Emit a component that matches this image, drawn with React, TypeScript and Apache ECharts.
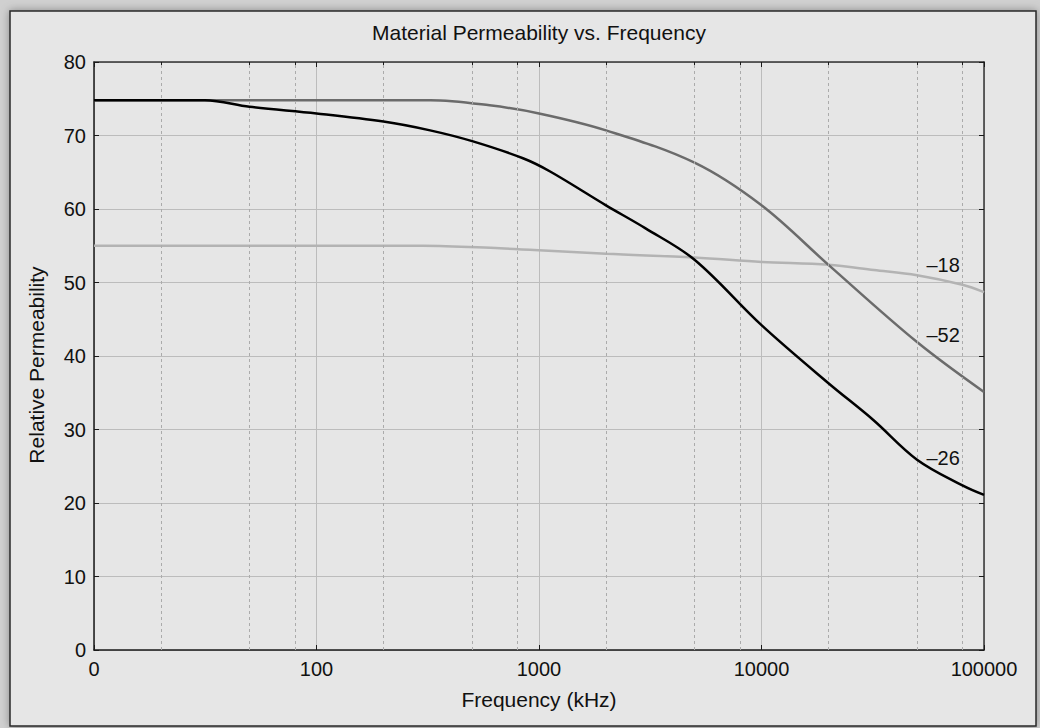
import React, { useEffect, useRef } from 'react';
import * as echarts from 'echarts';

const FONT = '"Liberation Sans", Arial, Helvetica, sans-serif';

const titleText = 'Material Permeability vs. Frequency';
const xName = 'Frequency (kHz)';
const yName = 'Relative Permeability';

const xMin = 10;
const xMax = 100000;
const xMinorTicks = [20, 50, 80, 200, 500, 800, 2000, 5000, 8000, 20000, 50000, 80000];
const yMin = 0;
const yMax = 80;
const yStep = 10;

const seriesNames = ['–18', '–52', '–26'];
const seriesColors = ['#b3b3b3', '#6b6b6b', '#000000'];

const freq18 = [10, 300, 668, 1000, 2000, 5000, 10000, 20000, 32000, 50000, 80000, 100000];
const perm18 = [55.0, 55.0, 54.65, 54.4, 53.9, 53.4, 52.8, 52.4, 51.7, 51.0, 49.7, 48.7];

const freq52 = [10, 325, 600, 1000, 2000, 5000, 10000, 20000, 50000, 100000];
const perm52 = [74.8, 74.8, 74.1, 73.0, 70.7, 66.3, 60.5, 52.4, 41.9, 35.1];

const freq26 = [10, 31.5, 50, 100, 200, 324, 505, 847, 1122, 2000, 3000, 5000, 10000, 20000, 31800, 50000, 80000, 100000];
const perm26 = [74.8, 74.8, 73.9, 73.0, 71.9, 70.7, 69.2, 66.9, 65.1, 60.5, 57.4, 53.1, 44.2, 36.3, 31.3, 25.9, 22.4, 21.1];

const labelFreq = 65500;
const labelPerm = [52.4, 42.9, 26.1];

const allFreq = [freq18, freq52, freq26];
const allPerm = [perm18, perm52, perm26];

export default function App() {
  const ref = useRef<HTMLDivElement>(null);

  useEffect(() => {
    if (!ref.current) return;
    const chart = echarts.init(ref.current, null, { renderer: 'svg' });

    const axisColor = '#1a1a1a';

    const series: any[] = [
      {
        type: 'line',
        name: 'minorGrid',
        data: [],
        z: 1,
        silent: true,
        markLine: {
          silent: true,
          symbol: 'none',
          animation: false,
          label: { show: false },
          lineStyle: { type: [3, 3], color: '#ababab', width: 1 },
          data: xMinorTicks.map((v) => ({ xAxis: v })),
        },
      },
    ];

    seriesNames.forEach((name, i) => {
      series.push({
        type: 'line',
        name,
        data: allFreq[i].map((f, j) => [f, allPerm[i][j]]),
        showSymbol: false,
        symbol: 'none',
        smooth: 0.35,
        z: 3 + i,
        lineStyle: { color: seriesColors[i], width: 2.5 },
        markPoint: {
          silent: true,
          symbol: 'circle',
          symbolSize: 1,
          itemStyle: { color: 'rgba(0,0,0,0)' },
          label: {
            show: true,
            position: 'inside',
            formatter: name,
            color: '#111',
            fontSize: 20,
            fontFamily: FONT,
          },
          data: [{ coord: [labelFreq, labelPerm[i]] }],
        },
      });
    });

    const option: any = {
      animation: false,
      backgroundColor: '#d0d0d0',
      textStyle: { fontFamily: FONT },
      title: {
        text: titleText,
        left: 539,
        top: 22,
        padding: 0,
        textAlign: 'center',
        textStyle: { fontSize: 21, fontWeight: 'normal', color: '#111', fontFamily: FONT },
      },
      graphic: [
        {
          type: 'rect',
          z: -10,
          silent: true,
          shape: { x: 10, y: 11, width: 1026, height: 715 },
          style: {
            fill: '#e6e6e6',
            stroke: '#2a2a2a',
            lineWidth: 1.5,
            shadowBlur: 8,
            shadowColor: 'rgba(0,0,0,0.35)',
          },
        },
      ],
      grid: { left: 94, right: 56, top: 62, bottom: 78, containLabel: false },
      xAxis: [
        {
          type: 'log',
          logBase: 10,
          min: xMin,
          max: xMax,
          position: 'bottom',
          name: xName,
          nameLocation: 'middle',
          nameGap: 39,
          nameTextStyle: { fontSize: 21, color: '#111', fontFamily: FONT },
          axisLine: { show: true, onZero: false, lineStyle: { color: axisColor, width: 1.5 } },
          axisTick: { show: true, inside: true, length: 5, lineStyle: { color: axisColor, width: 1 } },
          axisLabel: {
            fontSize: 20,
            color: '#111',
            margin: 9,
            fontFamily: FONT,
            formatter: (v: number) => (v === xMin ? '0' : String(v)),
          },
          splitLine: { show: true, lineStyle: { color: '#bcbcbc', width: 1 } },
          minorTick: { show: false },
          minorSplitLine: { show: false },
        },
        {
          type: 'log',
          logBase: 10,
          min: xMin,
          max: xMax,
          position: 'top',
          axisLine: { show: true, onZero: false, lineStyle: { color: '#333', width: 1.5 } },
          axisTick: { show: true, inside: true, length: 5, lineStyle: { color: axisColor, width: 1 } },
          axisLabel: { show: false },
          splitLine: { show: false },
        },
        {
          type: 'log',
          logBase: 10,
          min: xMin,
          max: xMax,
          position: 'bottom',
          axisLine: { show: false, onZero: false },
          axisTick: { show: true, inside: true, length: 3, customValues: xMinorTicks, lineStyle: { color: axisColor, width: 1 } },
          axisLabel: { show: false },
          splitLine: { show: false },
        },
        {
          type: 'log',
          logBase: 10,
          min: xMin,
          max: xMax,
          position: 'top',
          axisLine: { show: false, onZero: false },
          axisTick: { show: true, inside: true, length: 3, customValues: xMinorTicks, lineStyle: { color: axisColor, width: 1 } },
          axisLabel: { show: false },
          splitLine: { show: false },
        },
      ],
      yAxis: [
        {
          type: 'value',
          min: yMin,
          max: yMax,
          interval: yStep,
          position: 'left',
          name: yName,
          nameLocation: 'middle',
          nameGap: 47,
          nameTextStyle: { fontSize: 21, color: '#111', fontFamily: FONT, padding: [0, 18, 0, 0] },
          axisLine: { show: true, onZero: false, lineStyle: { color: axisColor, width: 1.5 } },
          axisTick: { show: true, inside: true, length: 5, lineStyle: { color: axisColor, width: 1 } },
          axisLabel: { fontSize: 20, color: '#111', margin: 8, fontFamily: FONT },
          splitLine: { show: true, lineStyle: { color: '#bcbcbc', width: 1 } },
        },
        {
          type: 'value',
          min: yMin,
          max: yMax,
          interval: yStep,
          position: 'right',
          axisLine: { show: true, onZero: false, lineStyle: { color: '#333', width: 1.5 } },
          axisTick: { show: true, inside: true, length: 5, lineStyle: { color: axisColor, width: 1 } },
          axisLabel: { show: false },
          splitLine: { show: false },
        },
      ],
      series,
    };

    chart.setOption(option);
    return () => {
      chart.dispose();
    };
  }, []);

  return (
    <div
      ref={ref}
      style={{ position: 'absolute', left: 0, top: 0, width: 1040, height: 728 }}
    />
  );
}
